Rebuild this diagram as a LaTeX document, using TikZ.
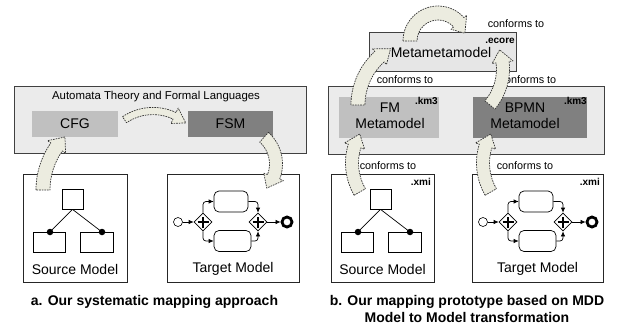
\documentclass[tikz,border=0pt]{standalone}
\usepackage{fontspec}
\setmainfont{Liberation Sans}
\usetikzlibrary{arrows.meta,shapes.geometric}
\definecolor{outerfill}{HTML}{EBEBEB}
\definecolor{metafill}{HTML}{E6E6E6}
\definecolor{lightbox}{HTML}{C0C0C0}
\definecolor{darkbox}{HTML}{808080}
\definecolor{arrowfill}{HTML}{ECECE0}
\definecolor{edge}{HTML}{404040}
\tikzset{
  panel/.style={draw=edge, fill=outerfill, line width=0.8pt, inner sep=0pt, outer sep=0pt},
  metabox/.style={draw=edge, fill=metafill, line width=0.8pt, inner sep=0pt, outer sep=0pt},
  lbox/.style={fill=lightbox, inner sep=0pt, outer sep=0pt},
  dbox/.style={fill=darkbox, inner sep=0pt, outer sep=0pt},
  modelbox/.style={draw=black!85, fill=white, line width=0.8pt, inner sep=0pt, outer sep=0pt},
  big/.style={font=\fontsize{14pt}{16pt}\selectfont, inner sep=0pt},
  mid/.style={font=\fontsize{11.4pt}{13pt}\selectfont, inner sep=0pt},
  small/.style={font=\fontsize{10.8pt}{12pt}\selectfont, inner sep=1pt},
  ext/.style={font=\bfseries\fontsize{10pt}{11pt}\selectfont, inner sep=0pt},
  caption/.style={font=\bfseries\fontsize{14pt}{17pt}\selectfont, inner sep=0pt, align=center},
  barrow/.style={draw=black!80, fill=arrowfill, line width=0.7pt, dash pattern=on 1.6pt off 1pt, line join=round},
  sqbox/.style={draw=black, fill=white, line width=0.7pt, inner sep=0pt, rectangle},
  dot/.style={circle, fill=black, minimum size=6.5pt, inner sep=0pt},
  startev/.style={circle, draw=black, fill=white, minimum size=9pt, inner sep=0pt, line width=0.6pt},
  endev/.style={circle, draw=black, fill=white, minimum size=10pt, inner sep=0pt, line width=2.8pt},
  gate/.style={diamond, draw=black, fill=white, minimum size=18pt, inner sep=0pt, line width=0.7pt,
     path picture={\draw[line width=2.2pt] ([xshift=-5.5pt]path picture bounding box.center) -- ([xshift=5.5pt]path picture bounding box.center);
                   \draw[line width=2.2pt] ([yshift=-5.5pt]path picture bounding box.center) -- ([yshift=5.5pt]path picture bounding box.center);}},
  task/.style={rectangle, draw=black, fill=white, rounded corners=5pt, inner sep=0pt, line width=0.7pt},
  flow/.style={line width=0.7pt, -{Latex[length=5pt,width=4.5pt]}}
}
% curved block arrow: cx, cy, r, tail angle, head-base angle, tip angle, half width, head half width
\newcommand\bentarrow[8]{%
  \begin{scope}[shift={(#1,#2)}]
    \path[barrow] ({#4}:{#3+#7}) arc[start angle={#4}, end angle={#5}, radius={#3+#7}]
      -- ({#5}:{#3+#8}) -- ({#6}:{#3}) -- ({#5}:{#3-#8}) -- ({#5}:{#3-#7})
      arc[start angle={#5}, end angle={#4}, radius={#3-#7}] -- cycle;
  \end{scope}}
% source model drawing, relative to box top-left
\newcommand\srccontent[3]{%
  \begin{scope}[shift={(#1,#2)}]
    \node[sqbox, minimum width=21pt, minimum height=20pt] (#3sq) at (49.5,25) {};
    \node[sqbox, minimum width=32pt, minimum height=20pt] (#3lb) at (26,68) {};
    \node[sqbox, minimum width=33pt, minimum height=20pt] (#3rb) at (73.5,68) {};
    \node[dot] (#3lc) at (27,58) {};
    \node[dot] (#3rc) at (79,58) {};
    \draw[line width=0.7pt] (#3sq.south) -- (#3lc.center);
    \draw[line width=0.7pt] (#3sq.south) -- (#3rc.center);
  \end{scope}}
% target model (BPMN) drawing, relative to box top-left
\newcommand\tgtcontent[3]{%
  \begin{scope}[shift={(#1,#2)}]
    \node[startev] (#3s) at (11,48) {};
    \node[gate] (#3ga) at (36,48) {};
    \node[task, minimum width=34pt, minimum height=21pt] (#3ta) at (64,27.5) {};
    \node[task, minimum width=37pt, minimum height=21pt] (#3tb) at (65.5,67) {};
    \node[gate] (#3gb) at (91,48) {};
    \node[endev] (#3e) at (120,48) {};
    \draw[flow] (#3s) -- (#3ga);
    \draw[flow, rounded corners=3pt] (#3ga.north) |- (#3ta.west);
    \draw[flow, rounded corners=3pt] (#3ta.east) -| (#3gb.north);
    \draw[flow, rounded corners=3pt] (#3ga.south) |- (#3tb.west);
    \draw[flow, rounded corners=3pt] (#3tb.east) -| (#3gb.south);
    \draw[flow] (#3gb) -- (#3e);
  \end{scope}}
\begin{document}
\begin{tikzpicture}[x=1pt, y=-1pt]
  \path[fill=white] (0,0) rectangle (618,329);
  \useasboundingbox (0,0) rectangle (618,329);

  % ---------- panel a ----------
  \node[panel, minimum width=292pt, minimum height=67pt] (atfl) at (160,119.5) {};
  \node[mid] (atfltxt) at (156,97) {Automata Theory and Formal Languages};
  \node[lbox, big, minimum width=86pt, minimum height=26pt] (cfg) at (75,124) {CFG};
  \node[dbox, big, minimum width=85pt, minimum height=26pt] (fsm) at (230.5,124) {FSM};
  \node[modelbox, minimum width=104pt, minimum height=108pt] (srcA) at (75,228) {};
  \node[modelbox, minimum width=132pt, minimum height=108pt] (tgtA) at (233,228) {};
  \srccontent{23}{174}{a}
  \tgtcontent{167}{174}{a}
  \node[big] (srcAlbl) at (75,269) {Source Model};
  \node[big] (tgtAlbl) at (233,269) {Target Model};
  \node[caption] (capA) at (154.5,302) {a. Our systematic mapping approach};

  % ---------- panel b ----------
  \node[panel, minimum width=276pt, minimum height=68pt] (outerB) at (466,120) {};
  \node[metabox, minimum width=147pt, minimum height=39pt] (meta) at (442.5,51.5) {};
  \node[big] (metatxt) at (441,52) {Metametamodel};
  \node[ext, anchor=east] (ecore) at (515,41) {.ecore};
  \node[lbox, minimum width=100pt, minimum height=41pt] (fm) at (389,117.5) {};
  \node[big, align=center] (fmtxt) at (390,116) {FM\\Metamodel};
  \node[ext, anchor=east] (fmext) at (438,101) {.km3};
  \node[dbox, minimum width=114pt, minimum height=41pt] (bpmn) at (530,117.5) {};
  \node[big, align=center] (bpmntxt) at (525,116) {BPMN\\Metamodel};
  \node[ext, anchor=east] (bpmnext) at (587,101) {.km3};
  \node[modelbox, minimum width=103pt, minimum height=108pt] (srcB) at (382.5,228) {};
  \node[modelbox, minimum width=131pt, minimum height=108pt] (tgtB) at (537.5,228) {};
  \node[ext, anchor=east] (srcBext) at (431,182) {.xmi};
  \node[ext, anchor=east] (tgtBext) at (600,182) {.xmi};
  \srccontent{331}{174}{b}
  \tgtcontent{472}{174}{b}
  \node[big] (srcBlbl) at (382.5,269) {Source Model};
  \node[big] (tgtBlbl) at (537.5,269) {Target Model};
  \node[caption] (capB) at (467,308.5) {b. Our mapping prototype based on MDD\\Model to Model transformation};

  \node[small] (c1) at (516,24) {conforms to};
  \node[small, fill=white] (c2) at (405,80) {conforms to};
  \node[small, fill=white] (c3) at (528,80) {conforms to};
  \node[small] (c4) at (388,166) {conforms to};
  \node[small] (c5) at (525,166) {conforms to};

  % ---------- block arrows ----------
  \bentarrow{118}{190}{75}{180}{215}{225}{7}{11}
  \bentarrow{153}{162}{51}{236}{295}{310}{3.6}{8.5}
  \bentarrow{240}{164}{36}{-48}{21}{42}{6.5}{10.5}
  \bentarrow{438}{41}{28}{180}{318}{344}{7}{10.5}
  \bentarrow{423}{105}{65}{180}{228}{240}{7}{10.5}
  \bentarrow{447}{69}{56}{40}{-7}{-20}{6.5}{10.5}
  \bentarrow{410}{163}{58}{150}{197}{210}{6.5}{10.5}
  \bentarrow{541}{163}{58}{150}{197}{210}{6.5}{10.5}
\end{tikzpicture}
\end{document}
